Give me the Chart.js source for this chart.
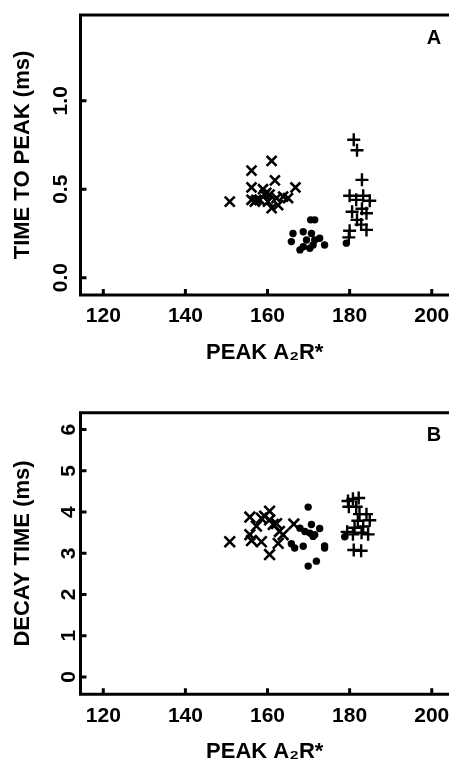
<!DOCTYPE html>
<html>
<head>
<meta charset="utf-8">
<script src="https://cdn.jsdelivr.net/npm/chart.js@4.4.1/dist/chart.umd.min.js"></script>
<style>
  html, body { margin: 0; padding: 0; background: #fff; overflow: hidden; }
  canvas { display: block; }
</style>
</head>
<body>
<canvas id="chartA" width="449" height="383"></canvas>
<canvas id="chartB" width="449" height="383"></canvas>
<script>
// shared x axis
const xTicks = [120, 140, 160, 180, 200];
const xTitle = 'PEAK A\u2082R*';

// panel A - time to peak (ms)
const yTicksA = [0, 0.5, 1.0];
const yLabelsA = ['0.0', '0.5', '1.0'];
const crossA_x = [150.8, 156.1, 156.1, 156.1, 156.9, 158.1, 158.9, 159.3, 159.7, 160.1, 161.0, 161.0, 161.8, 162.2, 162.6, 163.8, 165.0, 166.8, 157.3, 160.5];
const crossA_y = [0.43, 0.605, 0.51, 0.44, 0.43, 0.44, 0.50, 0.468, 0.48, 0.43, 0.66, 0.393, 0.55, 0.45, 0.41, 0.458, 0.45, 0.51, 0.44, 0.47];
const dotA_x = [165.8, 166.2, 167.9, 168.7, 168.7, 169.5, 170.3, 170.5, 171.5, 170.7, 171.1, 171.5, 172.7, 173.9, 179.2];
const dotA_y = [0.204, 0.25, 0.157, 0.26, 0.175, 0.213, 0.166, 0.327, 0.327, 0.25, 0.185, 0.213, 0.223, 0.185, 0.195];
const plusA_x = [181.0, 181.8, 183.0, 180.0, 181.6, 183.3, 184.9, 180.6, 183.0, 184.1, 181.8, 182.8, 184.1, 180.0, 179.8];
const plusA_y = [0.78, 0.72, 0.553, 0.463, 0.44, 0.463, 0.435, 0.373, 0.39, 0.364, 0.327, 0.30, 0.27, 0.265, 0.228];

// panel B - decay time (ms)
const yTicksB = [0, 1, 2, 3, 4, 5, 6];
const yLabelsB = ['0', '1', '2', '3', '4', '5', '6'];
const crossB_x = [150.8, 155.7, 155.7, 156.1, 157.3, 158.5, 158.5, 159.3, 160.5, 160.5, 161.4, 160.5, 162.2, 162.9, 162.6, 163.8, 166.4];
const crossB_y = [3.28, 3.88, 3.45, 3.31, 3.66, 3.28, 3.85, 3.90, 4.02, 3.81, 3.70, 2.97, 3.72, 3.53, 3.24, 3.45, 3.71];
const dotB_x = [169.9, 170.7, 172.7, 170.3, 171.5, 169.1, 167.9, 165.8, 166.6, 168.7, 173.9, 173.9, 171.9, 169.9, 178.8, 171.1];
const dotB_y = [4.12, 3.70, 3.60, 3.49, 3.45, 3.53, 3.61, 3.23, 3.13, 3.17, 3.13, 3.18, 2.81, 2.69, 3.40, 3.41];
const plusB_x = [179.6, 180.8, 182.2, 179.8, 181.6, 182.4, 184.1, 184.9, 182.0, 181.2, 183.3, 179.4, 180.8, 182.9, 184.5, 181.0, 182.8];
const plusB_y = [4.27, 4.32, 4.34, 4.13, 4.13, 3.95, 3.95, 3.80, 3.79, 3.62, 3.65, 3.52, 3.46, 3.50, 3.46, 3.08, 3.06];

const FONT = "'Liberation Sans', Arial, Helvetica, 'DejaVu Sans', sans-serif";

const pts = (xs, ys) => xs.map((x, i) => ({ x: x, y: ys[i] }));

// frame on left/top/bottom, inward ticks, panel letter
const framePlugin = {
  id: 'frame',
  afterDraw(chart, args, opts) {
    const { ctx, chartArea: a, scales } = chart;
    ctx.save();
    ctx.strokeStyle = '#000';
    ctx.lineWidth = 3;
    ctx.beginPath();
    ctx.moveTo(a.right + 5, a.top);
    ctx.lineTo(a.left, a.top);
    ctx.lineTo(a.left, a.bottom);
    ctx.lineTo(a.right + 5, a.bottom);
    ctx.stroke();

    ctx.beginPath();
    scales.x.ticks.forEach(t => {
      const px = scales.x.getPixelForValue(t.value);
      ctx.moveTo(px, a.bottom);
      ctx.lineTo(px, a.bottom - 6);
    });
    scales.y.ticks.forEach(t => {
      const py = scales.y.getPixelForValue(t.value);
      ctx.moveTo(a.left, py);
      ctx.lineTo(a.left + 6, py);
    });
    ctx.stroke();

    ctx.fillStyle = '#000';
    ctx.font = 'bold 20px ' + FONT;
    ctx.textAlign = 'center';
    ctx.textBaseline = 'middle';
    ctx.fillText(opts.letter, a.right - 15, a.top + 23);
    ctx.restore();
  }
};

function makeChart(id, p) {
  return new Chart(document.getElementById(id), {
    type: 'scatter',
    data: {
      datasets: [
        { data: pts(p.cx, p.cy), pointStyle: 'crossRot', pointRadius: p.crossR, borderColor: '#000', borderWidth: 2.6 },
        { data: pts(p.dx, p.dy), pointStyle: 'circle', pointRadius: 3.7, backgroundColor: '#000', borderColor: '#000', borderWidth: 0 },
        { data: pts(p.px, p.py), pointStyle: 'cross', pointRadius: 6.5, borderColor: '#000', borderWidth: 2.4 }
      ]
    },
    options: {
      responsive: false,
      animation: false,
      devicePixelRatio: 1,
      layout: { autoPadding: false, padding: { top: p.top, left: 0, right: 0, bottom: 0 } },
      plugins: {
        legend: { display: false },
        tooltip: { enabled: false },
        frame: { letter: p.letter }
      },
      scales: {
        x: {
          type: 'linear',
          min: 114.45,
          max: 204.2,
          grid: { display: false, drawTicks: false },
          border: { display: false },
          afterBuildTicks: s => { s.ticks = xTicks.map(v => ({ value: v })); },
          afterFit: s => { s.height = p.xHeight; s.paddingLeft = 0; s.paddingRight = 0; },
          ticks: {
            autoSkip: false,
            padding: 9,
            color: '#000',
            font: { family: FONT, size: 21, weight: 'bold' },
            callback: v => String(v)
          },
          title: {
            display: true,
            text: xTitle,
            color: '#000',
            font: { family: FONT, size: 22, weight: 'bold' },
            padding: { top: 0, bottom: p.xTitlePad }
          }
        },
        y: {
          type: 'linear',
          min: p.ymin,
          max: p.ymax,
          grid: { display: false, drawTicks: false },
          border: { display: false },
          afterBuildTicks: s => { s.ticks = p.yTicks.map(v => ({ value: v })); },
          afterFit: s => { s.width = 80.5; s.paddingTop = 0; s.paddingBottom = 0; },
          ticks: {
            autoSkip: false,
            minRotation: 90,
            maxRotation: 90,
            crossAlign: 'center',
            padding: 5,
            color: '#000',
            font: { family: FONT, size: 21, weight: 'bold' },
            callback: v => p.yLabels[p.yTicks.indexOf(v)]
          },
          title: {
            display: true,
            text: p.yTitle,
            color: '#000',
            font: { family: FONT, size: 22, weight: 'bold' },
            padding: { top: 10, bottom: 0 }
          }
        }
      }
    },
    plugins: [framePlugin]
  });
}

makeChart('chartA', {
  letter: 'A', yTitle: 'TIME TO PEAK (ms)',
  cx: crossA_x, cy: crossA_y, dx: dotA_x, dy: dotA_y, px: plusA_x, py: plusA_y,
  crossR: 7, ymin: -0.098, ymax: 1.485, yTicks: yTicksA, yLabels: yLabelsA,
  top: 15, xHeight: 88, xTitlePad: 17
});

makeChart('chartB', {
  letter: 'B', yTitle: 'DECAY TIME (ms)',
  cx: crossB_x, cy: crossB_y, dx: dotB_x, dy: dotB_y, px: plusB_x, py: plusB_y,
  crossR: 7.5, ymin: -0.42, ymax: 6.41, yTicks: yTicksB, yLabels: yLabelsB,
  top: 29.7, xHeight: 71.7, xTitlePad: 0.5
});
</script>
</body>
</html>
